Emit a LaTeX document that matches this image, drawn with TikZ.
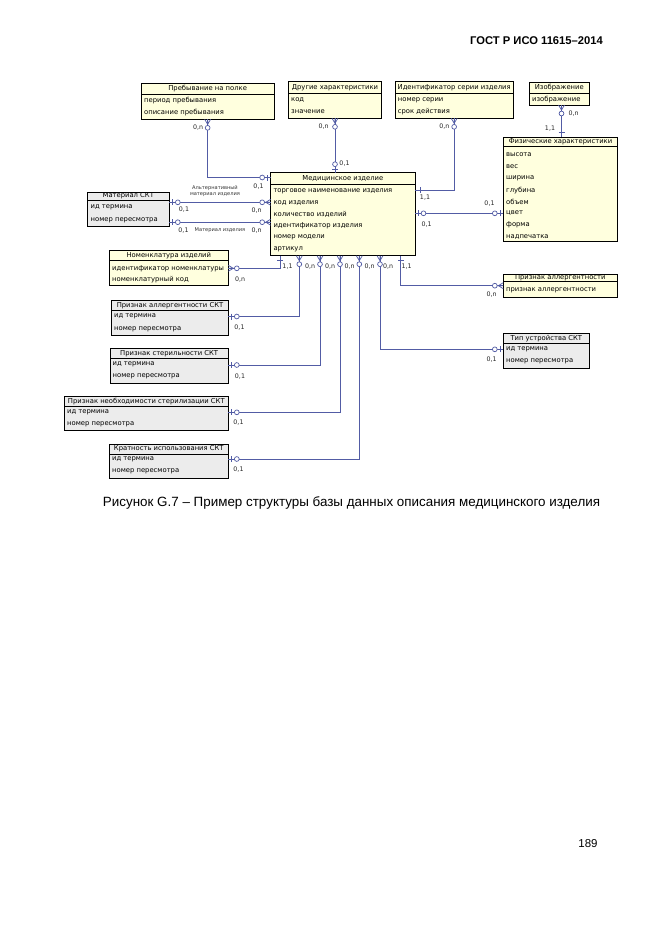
\documentclass[tikz,border=0pt]{standalone}
\usepackage{fontspec}
\setmainfont{Liberation Sans}
\newfontfamily\dv{DejaVu Sans}
\definecolor{ye}{RGB}{255,255,222}
\definecolor{gr}{RGB}{236,236,236}
\definecolor{ln}{RGB}{82,92,165}
\tikzset{
  box/.style={draw=black, line width=0.9pt, inner sep=0pt, outer sep=0pt, anchor=north west},
  ttl/.style={font=\dv\fontsize{6.8}{8}\selectfont, inner sep=0pt},
  rowtxt/.style={font=\dv\fontsize{6.8}{8}\selectfont, anchor=west, inner sep=0pt},
  lab/.style={font=\dv\fontsize{6.3}{7}\selectfont, inner sep=0pt, text=black!85},
  tiny/.style={font=\dv\fontsize{5.1}{6.6}\selectfont, inner sep=0pt, text=black!80, align=center},
  conn/.style={draw=ln, line width=0.8pt},
  manyopt/.pic={\draw[ln, line width=0.7pt] (0,-3)--(5,0) (0,3)--(5,0) (0,0)--(6,0);
                \draw[ln, line width=0.7pt, fill=white] (8.5,0) circle[radius=2.4pt];},
  oneopt/.pic={\draw[ln, line width=0.7pt] (3,-3)--(3,3);
               \draw[ln, line width=0.7pt, fill=white] (8.5,0) circle[radius=2.4pt];},
  onlyone/.pic={\draw[ln, line width=0.7pt] (5,-3)--(5,3);}
}
\newcommand\erbox[8]{%
  \node[box, fill=#7, minimum width={#4pt-#2pt}, minimum height={#5pt-#3pt}] (#1) at (#2,#3) {};
  \draw[line width=0.8pt] (#2,#6) -- (#4,#6);
  \node[ttl] (#1-t) at ({(#2+#4)/2},{(#3+#6)/2}) {#8};
}
\begin{document}
\begin{tikzpicture}[x=1pt,y=-1pt]
\fill[white] (0,0) rectangle (661,935);
\useasboundingbox (0,0) rectangle (661,935);

% page header, caption, page number
\node[font=\bfseries\fontsize{11.2}{13}\selectfont, anchor=east, inner sep=0pt] (hdr) at (603,40.7) {ГОСТ Р ИСО 11615–2014};
\node[font=\fontsize{13.4}{15}\selectfont, inner sep=0pt] (cap) at (351.5,503) {Рисунок G.7 – Пример структуры базы данных описания медицинского изделия};
\node[font=\fontsize{11.5}{13}\selectfont, inner sep=0pt] (pgn) at (588,844) {189};

% entities
\erbox{preb}{141}{83.3}{274.3}{119.3}{94}{ye}{Пребывание на полке}
\node[rowtxt] (preb-1) at (144,100.3) {период пребывания};
\node[rowtxt] (preb-2) at (144,112.7) {описание пребывания};

\erbox{dru}{288.3}{81.7}{381.7}{118.3}{93.3}{ye}{Другие характеристики}
\node[rowtxt] (dru-1) at (291,100.3) {код};
\node[rowtxt] (dru-2) at (291,111.7) {значение};

\erbox{ser}{395}{81.7}{513.3}{118.3}{93.3}{ye}{Идентификатор серии изделия}
\node[rowtxt] (ser-1) at (397.7,100.3) {номер серии};
\node[rowtxt] (ser-2) at (397.7,111.7) {срок действия};

\erbox{izo}{529.3}{82.3}{589.3}{105}{93.3}{ye}{Изображение}
\node[rowtxt] (izo-1) at (532,99.7) {изображение};

\erbox{phy}{503.3}{137.3}{617.7}{241.7}{146.7}{ye}{Физические характеристики}
\node[rowtxt] (phy-1) at (506,155) {высота};
\node[rowtxt] (phy-2) at (506,166.7) {вес};
\node[rowtxt] (phy-3) at (506,178.4) {ширина};
\node[rowtxt] (phy-4) at (506,190.1) {глубина};
\node[rowtxt] (phy-5) at (506,201.8) {объем};
\node[rowtxt] (phy-6) at (506,213.5) {цвет};
\node[rowtxt] (phy-7) at (506,225.2) {форма};
\node[rowtxt] (phy-8) at (506,236.9) {надпечатка};

\erbox{med}{270.7}{172.7}{415}{255.7}{184}{ye}{Медицинское изделие}
\node[rowtxt] (med-1) at (273.3,191.3) {торговое наименование изделия};
\node[rowtxt] (med-2) at (273.3,202.9) {код изделия};
\node[rowtxt] (med-3) at (273.3,214.5) {количество изделий};
\node[rowtxt] (med-4) at (273.3,226.1) {идентификатор изделия};
\node[rowtxt] (med-5) at (273.3,237.7) {номер модели};
\node[rowtxt] (med-6) at (273.3,249.3) {артикул};

\erbox{mat}{87.3}{192.3}{169.3}{226.7}{200}{gr}{Материал СКТ}
\node[rowtxt] (mat-1) at (90.5,207.7) {ид термина};
\node[rowtxt] (mat-2) at (90.5,220) {номер пересмотра};

\erbox{nom}{109.3}{250.7}{228.3}{285.7}{260}{ye}{Номенклатура изделий}
\node[rowtxt] (nom-1) at (112,268.3) {идентификатор номенклатуры};
\node[rowtxt] (nom-2) at (112,280) {номенклатурный код};

\erbox{als}{111.7}{300.7}{228.3}{335}{310.7}{gr}{Признак аллергентности СКТ}
\node[rowtxt] (als-1) at (114,316.5) {ид термина};
\node[rowtxt] (als-2) at (114,329.3) {номер пересмотра};

\erbox{ste}{110}{348.3}{228.3}{383.3}{358.3}{gr}{Признак стерильности СКТ}
\node[rowtxt] (ste-1) at (112.5,364) {ид термина};
\node[rowtxt] (ste-2) at (112.5,376.7) {номер пересмотра};

\erbox{neo}{64.3}{396.7}{228.3}{430.7}{406.7}{gr}{Признак необходимости стерилизации СКТ}
\node[rowtxt] (neo-1) at (67,412.3) {ид термина};
\node[rowtxt] (neo-2) at (67,424) {номер пересмотра};

\erbox{kra}{109.3}{444.3}{228.3}{478.3}{454}{gr}{Кратность использования СКТ}
\node[rowtxt] (kra-1) at (112,459.5) {ид термина};
\node[rowtxt] (kra-2) at (112,471) {номер пересмотра};

\erbox{all}{503.3}{274}{617.3}{297.3}{281.7}{ye}{Признак аллергентности}
\node[rowtxt] (all-1) at (506,290.5) {признак аллергентности};

\erbox{tip}{503.3}{333.3}{589.3}{368.3}{343.3}{gr}{Тип устройства СКТ}
\node[rowtxt] (tip-1) at (506,349.3) {ид термина};
\node[rowtxt] (tip-2) at (506,361.7) {номер пересмотра};

% connectors
% Пребывание -> Медицинское изделие
\draw[conn] (preb.south) |- (med.west |- 0,177.5);
\pic[rotate=-90] at (preb.south) {manyopt};
\pic[rotate=180] at (med.west |- 0,177.5) {oneopt};
\node[lab] (l1) at (198,127.3) {0,n};
\node[lab] (l2) at (258.5,186.5) {0,1};

% Материал СКТ -> Медицинское изделие (2x)
\draw[conn] (mat.east |- 0,202.3) -- (med.west |- 0,202.3);
\pic at (mat.east |- 0,202.3) {oneopt};
\pic[rotate=180] at (med.west |- 0,202.3) {manyopt};
\node[lab] (l3) at (184,209.5) {0,1};
\node[lab] (l4) at (256.7,210.5) {0,n};
\node[tiny] (alt) at (215,191) {Альтернативный\\материал изделия};

\draw[conn] (mat.east |- 0,222.2) -- (med.west |- 0,222.2);
\pic at (mat.east |- 0,222.2) {oneopt};
\pic[rotate=180] at (med.west |- 0,222.2) {manyopt};
\node[lab] (l5) at (183.5,230.5) {0,1};
\node[tiny] (matiz) at (220,230.5) {Материал изделия};
\node[lab] (l6) at (256.7,230.5) {0,n};

% Другие характеристики -> Медицинское изделие
\draw[conn] (dru.south) -- (med.north -| dru.south);
\pic[rotate=-90] at (dru.south) {manyopt};
\pic[rotate=90] at (med.north -| dru.south) {oneopt};
\node[lab] (l7) at (323.7,127) {0,n};
\node[lab] (l8) at (344.5,164) {0,1};

% Идентификатор серии -> Медицинское изделие
\draw[conn] (ser.south) |- (med.east |- 0,190);
\pic[rotate=-90] at (ser.south) {manyopt};
\pic at (med.east |- 0,190) {onlyone};
\node[lab] (l9) at (444.3,127) {0,n};
\node[lab] (l10) at (425,198) {1,1};

% Изображение -> Физические характеристики
\draw[conn] (izo.south -| 561.5,0) -- (phy.north -| 561.5,0);
\pic[rotate=-90] at (izo.south -| 561.5,0) {manyopt};
\pic[rotate=90] at (phy.north -| 561.5,0) {onlyone};
\node[lab] (l11) at (573.5,114) {0,n};
\node[lab] (l12) at (550,129) {1,1};

% Медицинское изделие -> Физические характеристики
\draw[conn] (med.east |- 0,213.3) -- (phy.west |- 0,213.3);
\pic at (med.east |- 0,213.3) {oneopt};
\pic[rotate=180] at (phy.west |- 0,213.3) {oneopt};
\node[lab] (l13) at (426.7,225) {0,1};
\node[lab] (l14) at (489.5,204) {0,1};

% bottom of Медицинское изделие
\draw[conn] (med.south -| 280,0) |- (nom.east |- 0,268.3);
\pic[rotate=-90] at (med.south -| 280,0) {onlyone};
\pic at (nom.east |- 0,268.3) {manyopt};
\node[lab] (l15) at (287.5,266.3) {1,1};
\node[lab] (l16) at (240,279.3) {0,n};

\draw[conn] (med.south -| 299.3,0) |- (als.east |- 0,316.5);
\pic[rotate=-90] at (med.south -| 299.3,0) {manyopt};
\pic at (als.east |- 0,316.5) {oneopt};
\node[lab] (l17) at (310,266.3) {0,n};
\node[lab] (l18) at (239.5,327.3) {0,1};

\draw[conn] (med.south -| 320,0) |- (ste.east |- 0,365);
\pic[rotate=-90] at (med.south -| 320,0) {manyopt};
\pic at (ste.east |- 0,365) {oneopt};
\node[lab] (l19) at (330,266.3) {0,n};
\node[lab] (l20) at (240,376.7) {0,1};

\draw[conn] (med.south -| 340,0) |- (neo.east |- 0,412.3);
\pic[rotate=-90] at (med.south -| 340,0) {manyopt};
\pic at (neo.east |- 0,412.3) {oneopt};
\node[lab] (l21) at (349.5,266.3) {0,n};
\node[lab] (l22) at (238.5,422.7) {0,1};

\draw[conn] (med.south -| 359.3,0) |- (kra.east |- 0,459);
\pic[rotate=-90] at (med.south -| 359.3,0) {manyopt};
\pic at (kra.east |- 0,459) {oneopt};
\node[lab] (l23) at (369.5,266.3) {0,n};
\node[lab] (l24) at (238.5,469.3) {0,1};

\draw[conn] (med.south -| 380,0) |- (tip.west |- 0,349.3);
\pic[rotate=-90] at (med.south -| 380,0) {manyopt};
\pic[rotate=180] at (tip.west |- 0,349.3) {oneopt};
\node[lab] (l25) at (388,266.3) {0,n};
\node[lab] (l26) at (491.7,359.3) {0,1};

\draw[conn] (med.south -| 400.7,0) |- (all.west |- 0,285.7);
\pic[rotate=-90] at (med.south -| 400.7,0) {onlyone};
\pic[rotate=180] at (all.west |- 0,285.7) {manyopt};
\node[lab] (l27) at (406.7,266.3) {1,1};
\node[lab] (l28) at (491.7,295) {0,n};
\end{tikzpicture}
\end{document}
